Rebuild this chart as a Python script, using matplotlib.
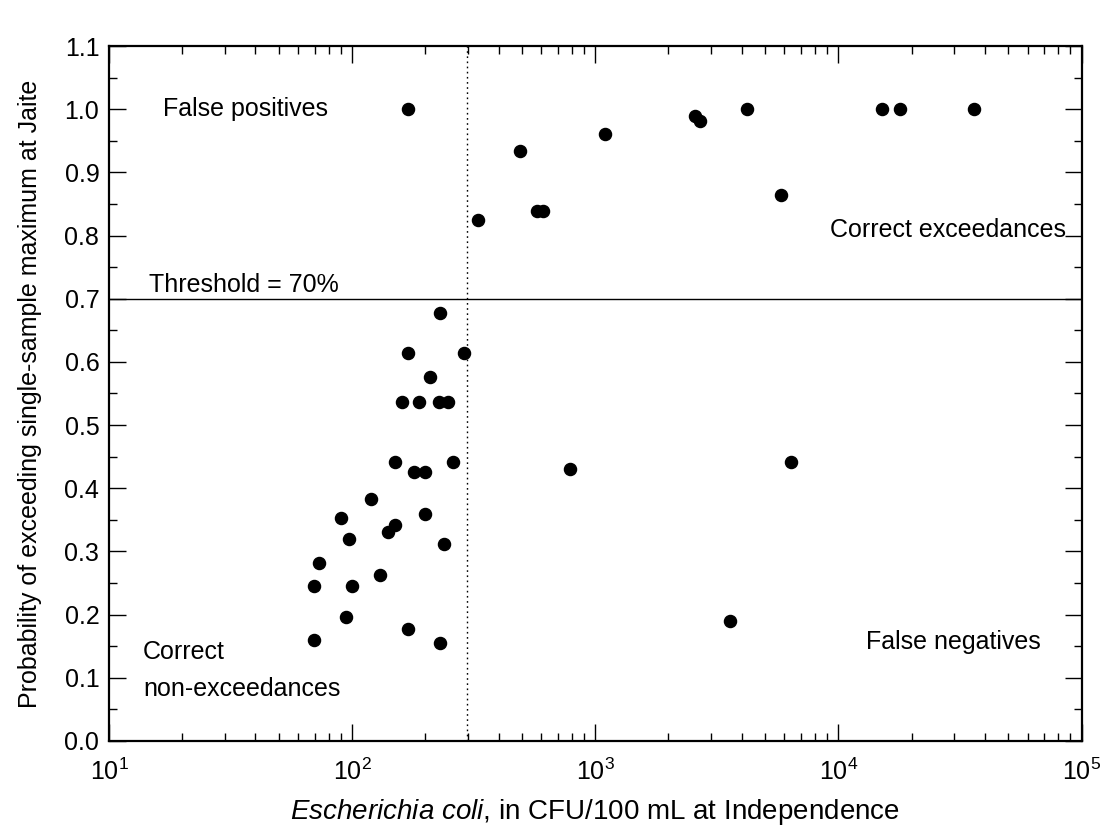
import numpy as np
import matplotlib
matplotlib.use("Agg")
import matplotlib.pyplot as plt
from matplotlib.ticker import LogLocator, MultipleLocator, NullFormatter

plt.rcParams['font.family'] = ['Liberation Sans', 'DejaVu Sans']
plt.rcParams['mathtext.fontset'] = 'custom'
plt.rcParams['mathtext.rm'] = 'Liberation Sans'
plt.rcParams['mathtext.it'] = 'Liberation Sans:italic'

# E. coli at Independence (CFU/100 mL) vs probability of exceedance at Jaite
ecoli = [169, 328, 490, 577, 610, 1094, 2583, 2697, 4188, 5794, 15070, 17980, 35970,
         230, 169, 289, 209, 160, 189, 228, 249, 149.5, 259, 179.5, 199.5,
         119.4, 90, 199.5, 149.5, 140, 96.7, 239, 72.8, 129.7, 69.8, 99.5,
         94.3, 69.8, 169, 230, 785, 6370, 3582]
prob = [1.0, 0.825, 0.934, 0.839, 0.839, 0.961, 0.990, 0.9815, 1.0, 0.864, 1.0, 1.0, 1.0,
        0.678, 0.614, 0.614, 0.576, 0.536, 0.536, 0.536, 0.536, 0.441, 0.441, 0.425, 0.425,
        0.3825, 0.353, 0.359, 0.3425, 0.331, 0.319, 0.3125, 0.282, 0.2635, 0.2455, 0.2455,
        0.1955, 0.1596, 0.178, 0.1544, 0.431, 0.441, 0.190]

threshold_prob = 0.7
ssm = 298  # single-sample maximum

fig = plt.figure(figsize=(11.07, 8.32), dpi=100)
ax = fig.add_axes([0.0985, 0.1094, 0.8785, 0.8353])

ax.plot(ecoli, prob, 'o', color='black', ms=8.7, zorder=3)
ax.axhline(threshold_prob, color='black', lw=1.0)
ax.axvline(ssm, color='black', lw=1.0, ls=(0, (1.2, 2.5)))

ax.set_xscale('log')
ax.set_xlim(10, 1e5)
ax.set_ylim(0, 1.1)

ax.xaxis.set_major_locator(LogLocator(base=10, numticks=10))
ax.xaxis.set_minor_locator(LogLocator(base=10, subs=np.arange(2, 10), numticks=20))
ax.xaxis.set_minor_formatter(NullFormatter())
ax.yaxis.set_major_locator(MultipleLocator(0.1))
ax.yaxis.set_minor_locator(MultipleLocator(0.05))
ax.yaxis.set_major_formatter(plt.FuncFormatter(lambda v, p: f"{v:.1f}"))

ax.tick_params(which='both', direction='in', top=True, right=True, labelsize=18, colors='black')
ax.tick_params(which='major', length=12, width=1.0, pad=7)
ax.tick_params(which='minor', length=6, width=1.0)
ax.tick_params(axis='x', which='major', pad=13)
for s in ax.spines.values():
    s.set_linewidth(1.6)

ax.set_xlabel(r"$\mathit{Escherichia\ coli}$, in CFU/100 mL at Independence", fontsize=20, labelpad=8)
ax.set_ylabel("Probability of exceeding single-sample maximum at Jaite", fontsize=18, labelpad=16)

ax.text(16.7, 1.0, "False positives", fontsize=18, va='center', ha='left')
ax.text(86000, 0.809, "Correct exceedances", fontsize=18, va='center', ha='right')
ax.text(14.6, 0.703, "Threshold = 70%", fontsize=18, va='bottom', ha='left')
ax.text(13.8, 0.141, "Correct", fontsize=18, va='center', ha='left')
ax.text(13.8, 0.083, "non-exceedances", fontsize=18, va='center', ha='left')
ax.text(13030, 0.156, "False negatives", fontsize=18, va='center', ha='left')

fig.savefig("out.png", dpi=100)
